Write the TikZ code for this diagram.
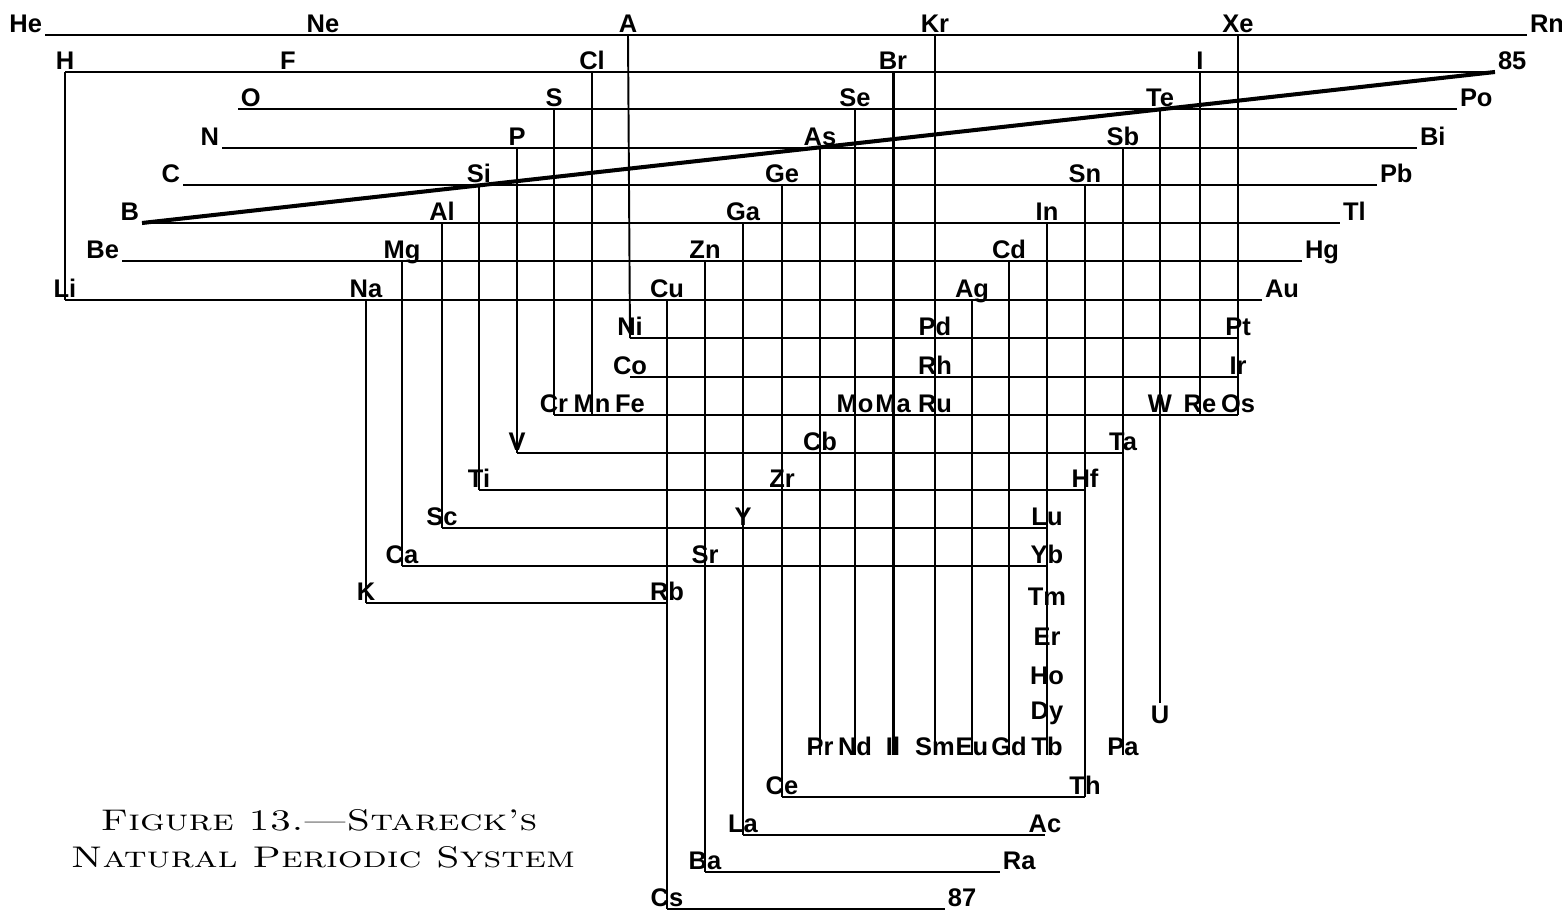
\documentclass[tikz,border=0pt]{standalone}
\usepackage{fontspec}
\newfontfamily\elfont{Liberation Sans}
\usepackage{tikz}
\tikzset{
  link/.style={line width=1.1pt},
  spine/.style={line width=2.3pt},
  el/.style={font={\elfont\bfseries\fontsize{14.5}{16}\selectfont}, inner sep=1.5pt},
  elc/.style={el, anchor=base, yshift=1.6pt},
  ell/.style={el, anchor=base east, yshift=1.6pt},
  elr/.style={el, anchor=base west, yshift=1.6pt},
  elb/.style={el, anchor=base},
  elt/.style={el, anchor=north},
  caption/.style={font={\fontsize{17}{20}\selectfont\scshape}, anchor=base},
}
\begin{document}
\begin{tikzpicture}[x=0.02cm, y=-0.02cm]
  \useasboundingbox (0,0) rectangle (1562,915);
  \foreach \n/\x/\y/\s in {
    He/45/35/ell, Ne/323/35/elc, A/628/35/elc, Kr/935/35/elc, Xe/1238/35/elc, Rn/1527/35/elr,
    H/65/72/elc, F/288/72/elc, Cl/592/72/elc, Br/893/72/elc, I/1200/72/elc,
    O/238/109/elr, S/554/109/elc, Se/855/109/elc, Te/1160/109/elc, Po/1457/109/elr,
    N/222/148/ell, P/517/148/elc, As/820/148/elc, Sb/1123/148/elc, Bi/1417/148/elr,
    C/183/185/ell, Si/479/185/elc, Ge/782/185/elc, Sn/1085/185/elc, Pb/1377/185/elr,
    B/142/223/ell, Al/442/223/elc, Ga/743/223/elc, In/1047/223/elc, Tl/1340/223/elr,
    Be/122/261/ell, Mg/402/261/elc, Zn/705/261/elc, Cd/1009/261/elc, Hg/1302/261/elr,
    Li/65/300/elc, Na/366/300/elc, Cu/667/300/elc, Ag/972/300/elc, Au/1262/300/elr,
    Ni/630/338/elc, Pd/935/338/elc, Pt/1238/338/elc,
    Co/630/377/elc, Rh/935/377/elc, Ir/1238/377/elc,
    Cr/554/415/elc, Mn/592/415/elc, Fe/630/415/elc, Mo/855/415/elc, Ma/893/415/elc,
    Ru/935/415/elc, W/1160/415/elc, Re/1200/415/elc, Os/1238/415/elc,
    V/517/453/elc, Cb/820/453/elc, Ta/1123/453/elc,
    Ti/479/490/elc, Zr/782/490/elc, Hf/1085/490/elc,
    Sc/442/528/elc, Y/743/528/elc, Lu/1047/528/elc,
    Ca/402/566/elc, Sr/705/566/elc, Yb/1047/566/elc,
    K/366/603/elc, Rb/667/603/elc,
    Tm/1047/605/elb, Er/1047/645/elb, Ho/1047/684/elb, Dy/1047/719/elb,
    Pr/820/755/elb, Nd/855/755/elb, Il/893/755/elb, Sm/935/755/elb, Eu/972/755/elb,
    Gd/1009/755/elb, Tb/1047/755/elb, Pa/1123/755/elb, U/1160/703/elt,
    Ce/782/797/elc, Th/1085/797/elc,
    La/743/835/elc, Ac/1045/835/elc,
    Ba/705/872/elc, Ra/1000/872/elr,
    Cs/667/909/elc}
  {
    \coordinate (\n) at (\x,\y);
    \node[\s] (t\n) at (\n) {\n};
  }
  \coordinate (n85) at (1495,72);
  \node[elr] (t85) at (n85) {85};
  \coordinate (n87) at (945,909);
  \node[elr] (t87) at (n87) {87};

  \foreach \a/\b in {He/Rn, H/n85, O/Po, N/Bi, C/Pb, B/Tl, Be/Hg, Li/Au,
    Ni/Pt, Co/Ir, Cr/Os, V/Ta, Ti/Hf, Sc/Lu, Ca/Yb, K/Rb,
    Ce/Th, La/Ac, Ba/Ra, Cs/n87}
    \draw[link] (\a) -- (\b);
  \foreach \a/\b in {H/Li, Na/K, Mg/Ca, Al/Sc, Si/Ti, P/V, S/Cr, Cl/Mn, A/Ni,
    Cu/Cs, Zn/Ba, Ga/La, Ge/Ce, As/Pr, Se/Nd, Kr/Sm, Ag/Eu, Cd/Gd,
    In/Tb, Sn/Th, Sb/Pa, Te/U, I/Re, Xe/Os}
    \draw[link] (\a) -- (\b);
  \draw[link, line width=1.7pt] (Br) -- (Il);
  \draw[spine] (B) -- (n85);

  \node[caption] (cap1) at (319,830) {\scalebox{1.3}[1]{Figure 13.---Stareck's}};
  \node[caption] (cap2) at (323,867) {\scalebox{1.3}[1]{Natural Periodic System}};
\end{tikzpicture}
\end{document}
